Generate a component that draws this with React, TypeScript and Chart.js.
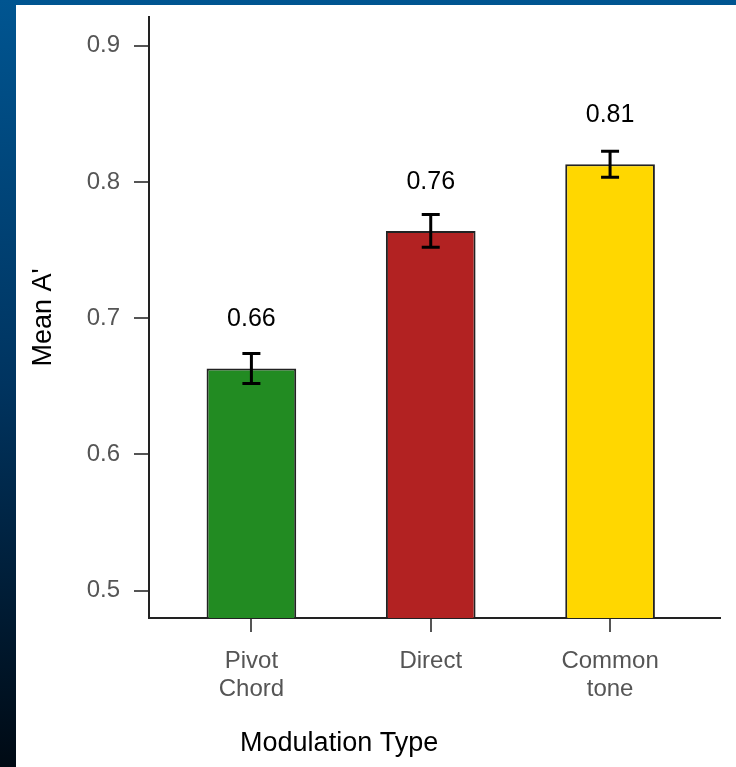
import React, { useEffect, useRef } from "react";
import { Chart, registerables } from "chart.js";

Chart.register(...registerables);

const FONT = "'Liberation Sans', Arial, sans-serif";

const categories: string[][] = [["Pivot", "Chord"], ["Direct"], ["Common", "tone"]];
const xPositions = [0, 1, 2];
const means = [0.663, 0.764, 0.813];
const errors = [0.011, 0.012, 0.0095];
const valueLabels = ["0.66", "0.76", "0.81"];
const barColors = ["#228B22", "#B22222", "#FFD700"];
const yTicks = [0.5, 0.6, 0.7, 0.8, 0.9];
const xTitle = "Modulation Type";
const yTitle = "Mean A'";

const annotatePlugin = {
  id: "annotate",
  afterDatasetsDraw(chart: any) {
    const ctx = chart.ctx;
    const xs = chart.scales.x;
    const ys = chart.scales.y;
    ctx.save();
    // error bars
    ctx.strokeStyle = "#000";
    ctx.lineWidth = 3;
    ctx.lineCap = "butt";
    xPositions.forEach((xv, i) => {
      const x = xs.getPixelForValue(xv);
      const yT = ys.getPixelForValue(means[i] + errors[i]);
      const yB = ys.getPixelForValue(means[i] - errors[i]);
      ctx.beginPath();
      ctx.moveTo(x, yT);
      ctx.lineTo(x, yB);
      ctx.moveTo(x - 9, yT);
      ctx.lineTo(x + 9, yT);
      ctx.moveTo(x - 9, yB);
      ctx.lineTo(x + 9, yB);
      ctx.stroke();
    });
    // value labels
    ctx.fillStyle = "#000";
    ctx.font = `25px ${FONT}`;
    ctx.textAlign = "center";
    ctx.textBaseline = "middle";
    xPositions.forEach((xv, i) => {
      const x = xs.getPixelForValue(xv);
      const y = ys.getPixelForValue(means[i]) - 49;
      ctx.fillText(valueLabels[i], x, y);
    });
    // x axis title
    ctx.font = `27px ${FONT}`;
    ctx.fillText(xTitle, xs.left + (xs.right - xs.left) * 0.333, chart.chartArea.bottom + 126);
    ctx.restore();
  },
};

export default function App() {
  const ref = useRef<HTMLCanvasElement | null>(null);

  useEffect(() => {
    if (!ref.current) return;
    const chart = new Chart(ref.current, {
      type: "bar",
      data: {
        datasets: [
          {
            data: xPositions.map((x, i) => ({ x, y: means[i] })),
            backgroundColor: barColors,
            borderColor: "#222",
            borderWidth: 2,
            borderSkipped: "start",
            barPercentage: 0.5,
            categoryPercentage: 1,
          } as any,
        ],
      },
      options: {
        responsive: false,
        animation: false,
        layout: { padding: { top: 12, right: 16, left: 0, bottom: 0 } },
        plugins: {
          legend: { display: false },
          tooltip: { enabled: false },
        },
        scales: {
          x: {
            type: "linear",
            min: -0.571,
            max: 2.613,
            offset: false,
            afterBuildTicks: (s: any) => {
              s.ticks = xPositions.map((v) => ({ value: v }));
            },
            afterFit: (s: any) => {
              s.height = 149;
              s.paddingLeft = 0;
              s.paddingRight = 0;
            },
            ticks: {
              callback: (v: any) => categories[v as number],
              font: { family: FONT, size: 24, lineHeight: 28 / 24 },
              color: "#555",
              padding: 15,
              maxRotation: 0,
              autoSkip: false,
            },
            grid: {
              offset: false,
              drawOnChartArea: false,
              drawTicks: true,
              tickLength: 14,
              color: "#555",
              lineWidth: 2,
            },
            border: { display: true, color: "#222", width: 2 },
          },
          y: {
            type: "linear",
            min: 0.48,
            max: 0.921,
            afterBuildTicks: (s: any) => {
              s.ticks = yTicks.map((v) => ({ value: v }));
            },
            afterFit: (s: any) => {
              s.width = 133;
              s.paddingTop = 0;
              s.paddingBottom = 0;
            },
            ticks: {
              callback: (v: any) => Number(v).toFixed(1),
              font: { family: FONT, size: 24 },
              color: "#555",
              padding: 14,
            },
            grid: { drawOnChartArea: false, drawTicks: true, tickLength: 15, color: "#555", lineWidth: 2 },
            border: { display: true, color: "#222", width: 2 },
            title: {
              display: true,
              text: yTitle,
              color: "#000",
              font: { family: FONT, size: 27 },
              padding: { top: 11, bottom: 0 },
            },
          },
        },
      } as any,
      plugins: [annotatePlugin],
    });
    return () => chart.destroy();
  }, []);

  return (
    <div
      style={{
        position: "fixed",
        left: 0,
        top: 0,
        width: 736,
        height: 767,
        background: "linear-gradient(to bottom, #005591 0%, #003460 50%, #000a14 100%)",
        overflow: "hidden",
      }}
    >
      <div style={{ position: "absolute", left: 16, top: 5, width: 720, height: 762, background: "#fff" }}>
        <canvas ref={ref} width={720} height={762} style={{ display: "block" }} />
      </div>
    </div>
  );
}
